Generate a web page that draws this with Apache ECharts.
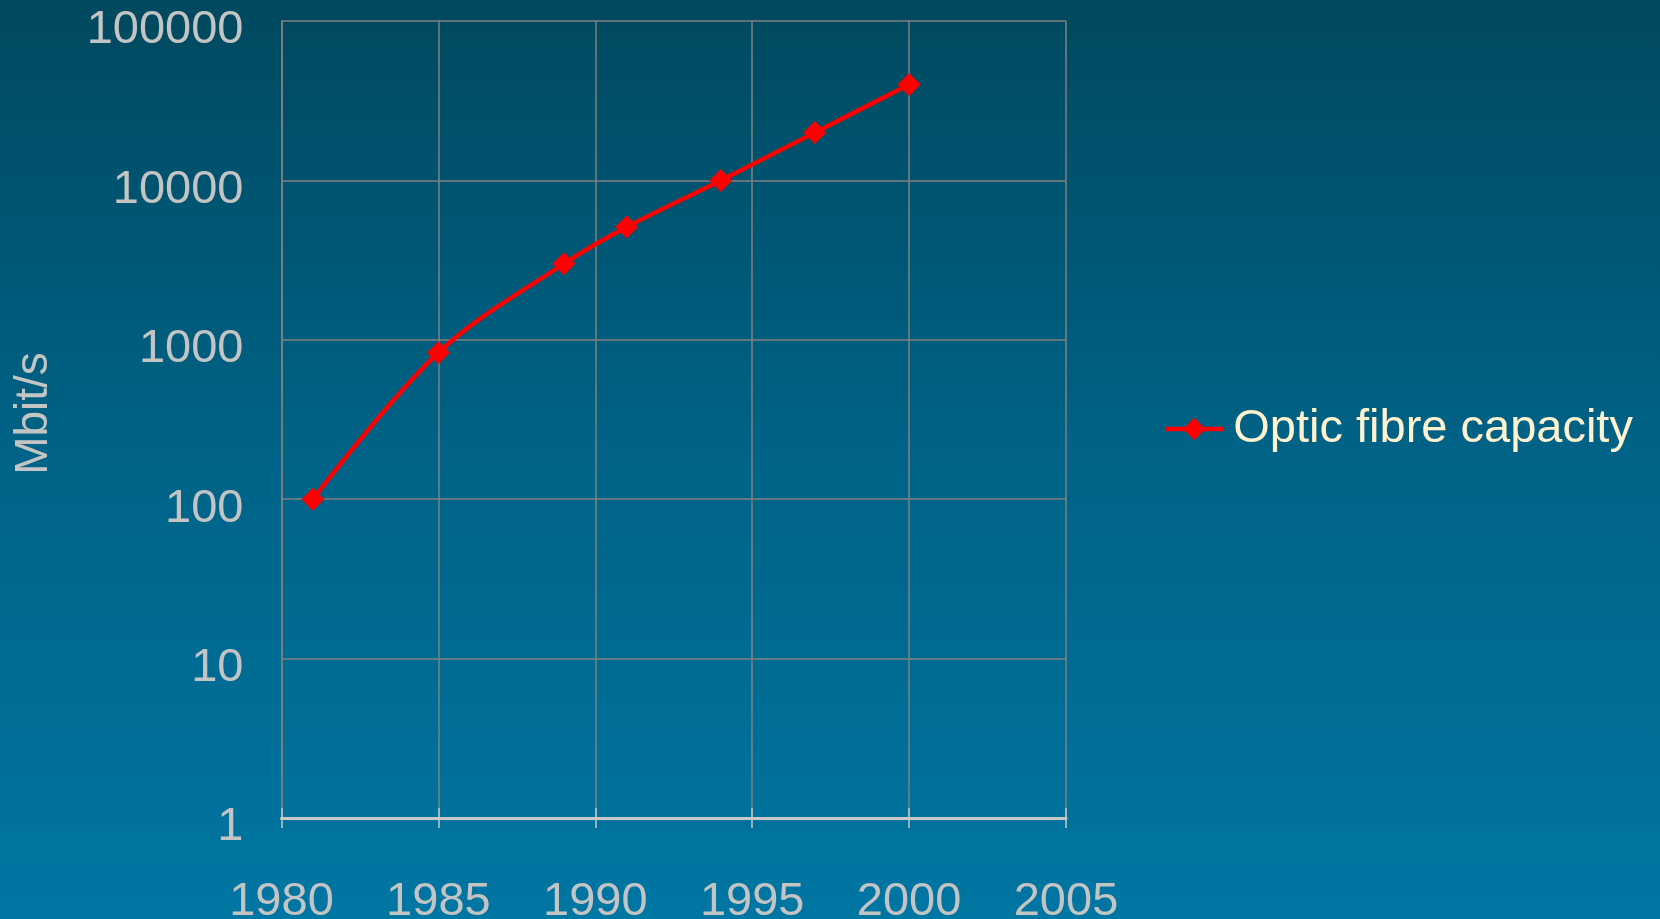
<!DOCTYPE html>
<html>
<head>
<meta charset="utf-8">
<style>
html,body{margin:0;padding:0;width:1660px;height:919px;overflow:hidden;}
#chart{width:1660px;height:919px;}
</style>
<script src="https://cdn.jsdelivr.net/npm/echarts@6/dist/echarts.min.js"></script>
</head>
<body>
<div id="chart"></div>
<script>
var years = [1981, 1985, 1989, 1991, 1994, 1997, 2000];
var capacity = [100, 830, 3000, 5100, 10000, 20000, 40000];
var seriesName = 'Optic fibre capacity';
var yAxisName = 'Mbit/s';

var FONT = '"Liberation Sans", Arial, sans-serif';
var chart = echarts.init(document.getElementById('chart'));
var data = years.map(function (y, i) { return [y, capacity[i]]; });
var plain = function (v) { return String(Math.round(v)); };

chart.setOption({
  backgroundColor: {
    type: 'linear', x: 0, y: 0, x2: 0, y2: 1,
    colorStops: [
      { offset: 0, color: '#00495f' },
      { offset: 0.5, color: '#006387' },
      { offset: 1, color: '#0076a3' }
    ]
  },
  animation: false,
  grid: { left: 281.5, right: 594, top: 21, bottom: 101, containLabel: false, outerBoundsMode: 'none' },
  legend: {
    data: [seriesName],
    left: 1158,
    top: 399,
    itemWidth: 58,
    itemHeight: 28,
    lineStyle: { width: 4.5 },
    textStyle: { color: '#fff3cf', fontSize: 47, fontFamily: FONT, lineHeight: 50, padding: [0, 0, 0, 5] }
  },
  xAxis: [{
    type: 'value',
    min: 1980, max: 2005, interval: 5,
    axisLine: { show: true, lineStyle: { color: '#c8c8c8', width: 3 } },
    axisTick: { show: true, length: 10, lineStyle: { color: '#c8c8c8', width: 1.5 } },
    axisLabel: { color: '#c4c4c4', fontSize: 47, fontFamily: FONT, margin: 61, lineHeight: 47, formatter: plain },
    splitLine: { show: true, lineStyle: { color: '#808080', width: 1.5 } }
  }, {
    type: 'value',
    position: 'bottom',
    min: 1980, max: 2005, interval: 5,
    axisLine: { show: false },
    axisTick: { show: true, inside: true, length: 10, lineStyle: { color: '#c8c8c8', width: 1.5 } },
    axisLabel: { show: false },
    splitLine: { show: false }
  }],
  yAxis: {
    type: 'log', logBase: 10, min: 1, max: 100000,
    name: yAxisName,
    nameLocation: 'middle',
    nameGap: 224,
    nameRotate: 90,
    nameTextStyle: { color: '#c4c4c4', fontSize: 46, fontFamily: FONT, padding: [0, 0, 0, 12] },
    axisLine: { show: true, lineStyle: { color: '#808080', width: 1.5 } },
    axisTick: { show: false },
    axisLabel: { color: '#c4c4c4', fontSize: 47, fontFamily: FONT, margin: 38, verticalAlign: 'top', lineHeight: 19, formatter: plain },
    splitLine: { show: true, lineStyle: { color: '#808080', width: 1.5 } }
  },
  series: [{
    name: seriesName,
    type: 'line',
    data: data,
    smooth: 0.35,
    symbol: 'diamond',
    symbolSize: 23,
    itemStyle: { color: '#ff0000' },
    lineStyle: { color: '#ff0000', width: 4.5 }
  }]
});
</script>
</body>
</html>
